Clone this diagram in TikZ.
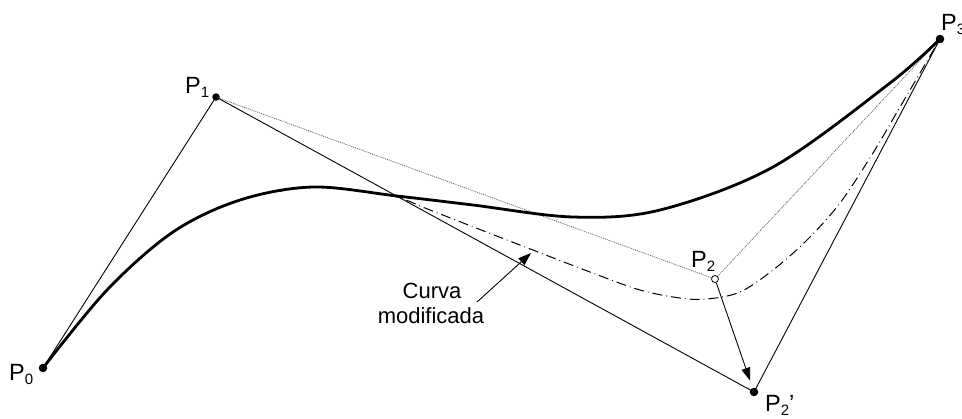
\documentclass[tikz,border=0pt]{standalone}
\usepackage{fontspec}
\setmainfont{Liberation Sans}
\usetikzlibrary{arrows.meta}
\pgfdeclarelayer{bg}
\pgfsetlayers{bg,main}
\newcommand\plab[2]{P\raisebox{-4bp}{\fontsize{15bp}{15bp}\selectfont #1}#2}
\begin{document}
\begin{tikzpicture}[x=1bp,y=-1bp,
  pt/.style={circle,fill=black,inner sep=0pt,minimum size=8.5bp},
  opt/.style={circle,draw=black,fill=white,line width=0.8bp,inner sep=0pt,minimum size=7bp},
  cline/.style={line width=0.9bp},
  ctrl/.style={line width=0.8bp,black!60,dash pattern=on 1bp off 1bp},
  curve/.style={line width=2.8bp,line cap=round},
  mod/.style={line width=1bp,dash pattern=on 10bp off 4bp on 0.8bp off 4bp},
  lbl/.style={font=\fontsize{22bp}{25bp}\selectfont,inner sep=0pt},
  plbl/.style={font=\fontsize{23.5bp}{25bp}\selectfont,inner sep=0pt,anchor=base west},
  arr/.style={line width=0.9bp,-{Triangle[length=13bp,width=9bp]}}
]
\useasboundingbox (0,0) rectangle (962,418);
% control points
\node[pt] (p0) at (43,368) {};
\node[pt,minimum size=7.5bp] (p1) at (216,97) {};
\node[opt] (p2) at (715,279) {};
\node[pt] (p2p) at (754,392) {};
\node[pt] (p3) at (940,39) {};
% labels
\node[plbl] (l0) at (9,380) {\plab{0}{}};
\node[plbl] (l1) at (185,93) {\plab{1}{}};
\node[plbl] (l2) at (691,267) {\plab{2}{}};
\node[plbl] (l2p) at (765,411) {\plab{2}{'}};
\node[plbl] (l3) at (941,30) {\plab{3}{}};
\node[lbl,anchor=base] (c1) at (432,298) {Curva};
\node[lbl,anchor=base] (c2) at (431,323) {modificada};
\coordinate (a1) at (477,302);
\coordinate (a2) at (531,253);
\begin{pgfonlayer}{bg}
\draw[cline] (p0.center) -- (p1.center);
\draw[cline] (p1.center) -- (p2p.center);
\draw[cline] (p2p.center) -- (p3.center);
\draw[ctrl] (p1.center) -- (p2);
\draw[ctrl] (p2) -- (p3.center);
\draw[mod] plot[smooth,tension=0.55] coordinates {(43,368) (107,290) (173,232) (240,200) (313,187) (360,191) (397,197) (430,210) (507,240) (590,272) (640,290) (680,298) (707,299) (740,292) (773,270) (807,240) (840,203) (873,153) (900,107) (940,39)};
\draw[curve] plot[smooth,tension=0.55] coordinates {(43,368) (107,290) (173,232) (240,200) (313,187) (397,196) (473,205) (573,217) (660,210) (773,167) (890,83) (940,39)};
\end{pgfonlayer}
\draw[arr,shorten >=12bp] (p2) -- (p2p.center);
\draw[arr] (a1) -- (a2);
\end{tikzpicture}
\end{document}
